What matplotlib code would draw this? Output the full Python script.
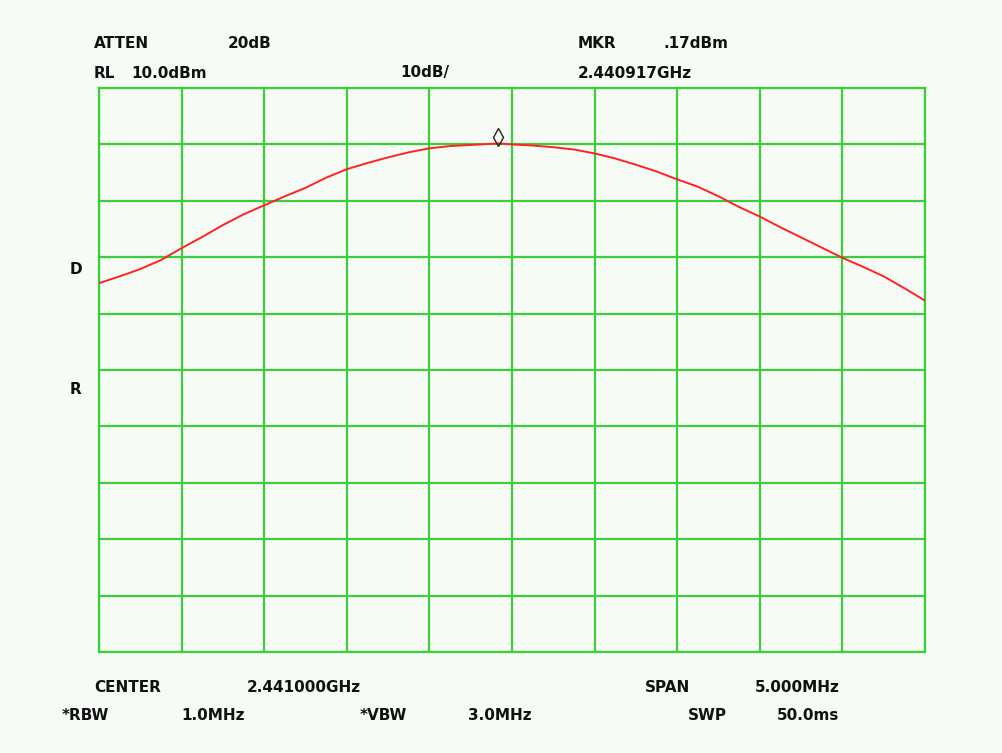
import numpy as np
import matplotlib.pyplot as plt
from matplotlib.transforms import offset_copy

# trace, 0.125 MHz steps from 2438.5 MHz (+ marker point)
freq_mhz = [2438.500, 2438.625, 2438.750, 2438.875, 2439.000, 2439.125,
            2439.250, 2439.375, 2439.500, 2439.625, 2439.750, 2439.875,
            2440.000, 2440.125, 2440.250, 2440.375, 2440.500, 2440.625,
            2440.750, 2440.917, 2441.000, 2441.125, 2441.250, 2441.375,
            2441.500, 2441.625, 2441.750, 2441.875, 2442.000, 2442.125,
            2442.250, 2442.375, 2442.500, 2442.625, 2442.750, 2442.875,
            2443.000, 2443.125, 2443.250, 2443.375, 2443.500]
level_dbm = [-24.6, -23.4, -22.1, -20.5, -18.4, -16.4,
             -14.3, -12.4, -10.8, -9.2, -7.7, -5.9,
             -4.4, -3.3, -2.3, -1.4, -0.7, -0.3,
             -0.1, 0.17, 0.0, -0.2, -0.5, -0.9,
             -1.6, -2.5, -3.6, -4.8, -6.2, -7.5,
             -9.2, -11.1, -12.8, -14.7, -16.5, -18.3,
             -20.1, -21.7, -23.4, -25.5, -27.7]

ref_level = 10.0
db_per_div = 10
center = 2441.0
span = 5.0
mkr_freq = 2440.917
mkr_level = 0.17

bg = '#f6fbf6'
grid_green = '#3ccc3c'
trace_red = '#ff2424'

fig = plt.figure(figsize=(10.03, 7.53), dpi=100, facecolor=bg)
ax = fig.add_axes([99 / 1003, (753 - 652) / 753, 826 / 1003, 564 / 753])
ax.set_facecolor(bg)

ax.set_xlim(center - span / 2, center + span / 2)
ax.set_ylim(ref_level - 10 * db_per_div, ref_level)
ax.set_xticks(np.linspace(center - span / 2, center + span / 2, 11))
ax.set_yticks(np.arange(ref_level - 10 * db_per_div, ref_level + 1, db_per_div))
ax.grid(True, color=grid_green, linewidth=1.6)
ax.tick_params(length=0, labelbottom=False, labelleft=False)
for s in ax.spines.values():
    s.set_color(grid_green)
    s.set_linewidth(1.6)

ax.plot(freq_mhz, level_dbm, color=trace_red, linewidth=1.4, zorder=3)

# marker diamond sits just above the trace
tr = offset_copy(ax.transData, fig=fig, x=0, y=6, units='dots')
ax.plot([mkr_freq], [mkr_level], marker='d', markersize=9, mfc='none',
        mec='#222222', mew=1.0, transform=tr, zorder=4, clip_on=False)

font = dict(family='DejaVu Sans', fontweight='bold', fontsize=11,
            color='#111111', va='center', ha='left')

def label(x, y, s):
    fig.text(x / 1003, 1 - y / 753, s, **font)

label(94, 44, 'ATTEN')
label(228, 44, '20dB')
label(578, 44, 'MKR')
label(664, 44, '.17dBm')
label(94, 73, 'RL')
label(131, 73, '10.0dBm')
label(400, 73, '10dB/')
label(578, 73, '2.440917GHz')
label(70, 269, 'D')
label(70, 389, 'R')
label(94, 687, 'CENTER')
label(247, 687, '2.441000GHz')
label(645, 687, 'SPAN')
label(755, 687, '5.000MHz')
label(62, 716, '*RBW')
label(181, 716, '1.0MHz')
label(360, 716, '*VBW')
label(468, 716, '3.0MHz')
label(688, 716, 'SWP')
label(777, 716, '50.0ms')

fig.savefig('out.png', dpi=100, facecolor=bg)
